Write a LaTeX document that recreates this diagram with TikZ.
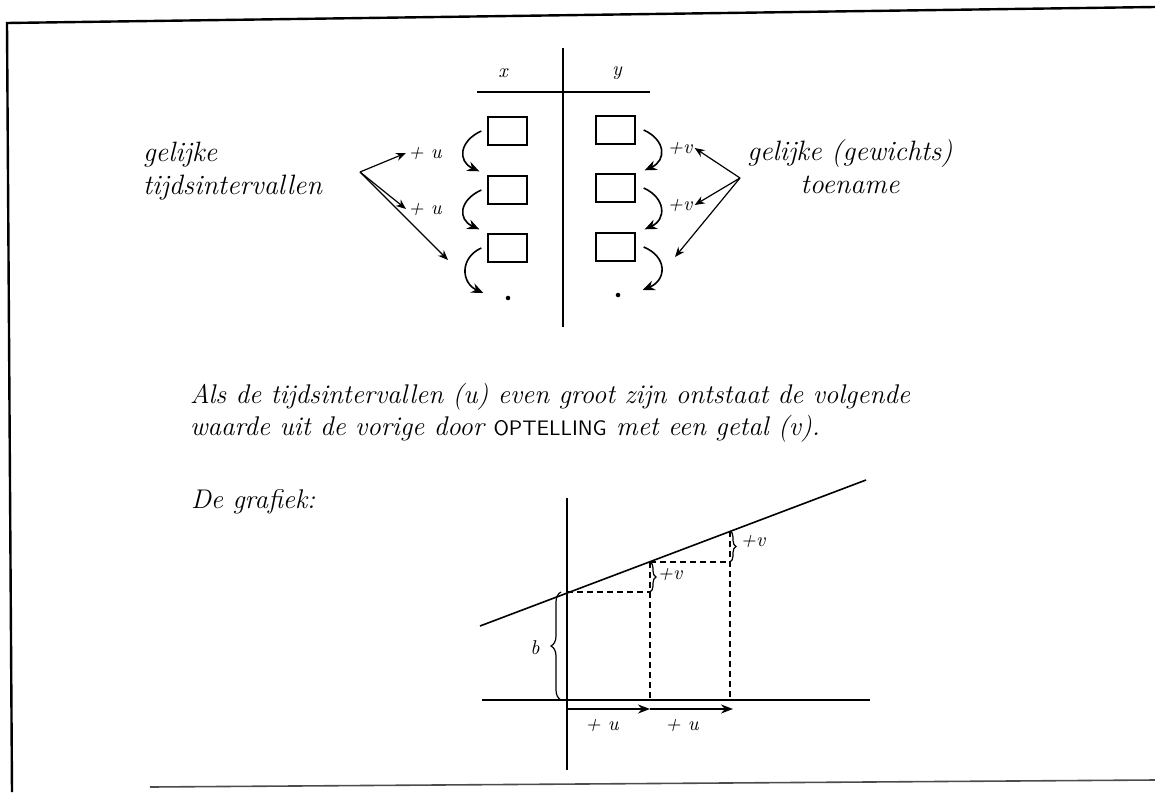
\documentclass[tikz,border=0pt]{standalone}
\usepackage{tikz}
\usetikzlibrary{arrows.meta,decorations.pathreplacing}

\begin{document}
\begin{tikzpicture}[x=0.5pt, y=-0.5pt,
    hand/.style={font=\itshape\fontsize{14}{16.5}\selectfont},
    prose/.style={font=\itshape\fontsize{13.5}{16}\selectfont},
    small/.style={font=\itshape\fontsize{10}{12}\selectfont, inner sep=1pt},
    cell/.style={draw, line width=0.7pt, minimum width=19.5pt, minimum height=14pt, inner sep=0pt},
    curl/.style={-{Stealth[length=6pt,width=5pt]}, line width=0.8pt},
    pointer/.style={-{Stealth[length=5pt,width=4pt]}, line width=0.6pt},
    guide/.style={line width=0.6pt, dash pattern=on 3pt off 2pt},
    bracket/.style={decorate, decoration={brace, amplitude=3pt}, line width=0.6pt}]
        \useasboundingbox (0,0) rectangle (1155,792);

        % Frame of the page
        \draw[line width=1.2pt] (1155,7) -- (7,23) -- (12,792);
        \draw[line width=0.8pt, black!70] (150,787) -- (1155,780);

        % Table x | y
        \draw[line width=0.6pt] (563,48) -- (563,327);
        \draw[line width=0.6pt] (477,92) -- (650,92);
        \node[small] (hx) at (503,73) {x};
        \node[small] (hy) at (617,73) {y};
        \foreach \i/\yl/\yr in {1/131/130, 2/190/188, 3/248/247} {
          \node[cell] (xl\i) at (507.5,\yl) {};
          \node[cell] (yr\i) at (615.5,\yr) {};
        }
        \node[circle, fill, inner sep=0.8pt] (xd) at (508,298) {};
        \node[circle, fill, inner sep=0.8pt] (yd) at (618,295) {};

        % Steps in both columns
        \draw[curl] ([xshift=-3pt]xl1.west) .. controls +(-22,10) and +(-22,-10) .. ([shift={(-4pt,2pt)}]xl2.north west);
        \draw[curl] ([xshift=-3pt]xl2.west) .. controls +(-22,10) and +(-22,-10) .. ([shift={(-4pt,2pt)}]xl3.north west);
        \draw[curl] ([xshift=-3pt]xl3.west) .. controls +(-22,10) and +(-22,-10) .. ([shift={(-11pt,2.5pt)}]xd.west);
        \draw[curl] ([xshift=4pt]yr1.east) .. controls +(22,10) and +(22,-10) .. ([shift={(4.5pt,1.5pt)}]yr2.north east);
        \draw[curl] ([xshift=4pt]yr2.east) .. controls +(22,10) and +(22,-10) .. ([shift={(4.5pt,1.5pt)}]yr3.north east);
        \draw[curl] ([xshift=4pt]yr3.east) .. controls +(24,10) and +(24,-10) .. ([shift={(11pt,2.5pt)}]yd.east);
        \node[small] (lu1) at (425,153) {+ u};
        \node[small] (lu2) at (425,209) {+ u};
        \node[small] (rv1) at (680,148) {+v};
        \node[small] (rv2) at (680,205) {+v};

        % Left remark
        \node[hand, align=left, anchor=west] (ltext) at (136,171) {gelijke\\tijdsintervallen};
        \coordinate (lo) at (360,172);
        \coordinate (lt) at (448,260);
        \draw[pointer] (lo) -- (lu1.west);
        \draw[pointer] (lo) -- (lu2.west);
        \draw[pointer] (lo) -- (lt);

        % Right remark
        \node[hand, align=center] (rtext) at (850,166.5) {gelijke (gewichts)\\toename};
        \coordinate (ro) at (740,178);
        \coordinate (rt) at (675,257);
        \draw[pointer] (ro) -- (rv1.east);
        \draw[pointer] (ro) -- (rv2.east);
        \draw[pointer] (ro) -- (rt);

        % Explanation
        \node[prose, align=left, anchor=west] (para) at (183,413) {Als de tijdsintervallen (u) even groot zijn ontstaat de volgende\\waarde uit de vorige door {\sffamily\upshape\fontsize{10.5}{16}\selectfont OPTELLING} met een getal (v).};
        \node[prose, anchor=west] (graf) at (184,502) {De grafiek:};

        % The graph
        \coordinate (o) at (567,700);
        \coordinate (p0) at (567,592);
        \coordinate (p1) at (650,562);
        \coordinate (p2) at (730,531);
        \coordinate (q1) at (650,592);
        \coordinate (q2) at (730,562);
        \coordinate (a1) at (650,700);
        \coordinate (a2) at (730,700);
        \draw[line width=0.6pt] (567,498) -- (567,770);
        \draw[line width=0.6pt] (482,700) -- (870,700);
        \draw[line width=0.8pt] (480,626) -- (866,480);
        \draw[guide] (p0) -- (q1);
        \draw[guide] (p1) -- (a1);
        \draw[guide] (p1) -- (q2);
        \draw[guide] (p2) -- (a2);
        \draw[bracket] (p1) -- (q1);
        \draw[bracket] (p2) -- (q2);
        \draw[bracket, decoration={amplitude=5pt}] ([xshift=-3pt]o) -- ([xshift=-3pt]p0);
        \node[small] (v1) at (670,574) {+v};
        \node[small] (v2) at (753,541) {+v};
        \node[small] (bb) at (535,648) {b};
        \coordinate (s0) at (567,709);
        \coordinate (s1) at (650,709);
        \coordinate (s2) at (733,709);
        \draw[-{Stealth[length=6pt]}, line width=1.1pt] (s0) -- (s1);
        \draw[-{Stealth[length=6pt]}, line width=1.1pt] (s1) -- (s2);
        \node[small] (u1) at (602,725) {+ u};
        \node[small] (u2) at (682,725) {+ u};
      \end{tikzpicture}
\end{document}
